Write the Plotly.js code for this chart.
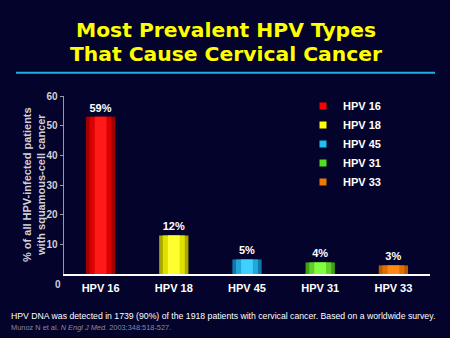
<!DOCTYPE html>
<html><head><meta charset="utf-8">
<script src="https://cdn.plot.ly/plotly-3.0.1.min.js"></script>
<style>html,body{margin:0;padding:0;background:#03032b;}#chart{width:450px;height:338px;}</style>
</head><body><div id="chart"></div>
<script>
const categories = ['HPV 16', 'HPV 18', 'HPV 45', 'HPV 31', 'HPV 33'];
const barHeights = [53, 13, 4.9, 3.9, 2.9];
const barLabels = ['59%', '12%', '5%', '4%', '3%'];
const yTickVals = [10, 20, 30, 40, 50, 60];
const edgeColors = ['#a00000', '#a8a800', '#1078a8', '#40a018', '#b85800'];
const midColors = ['#d80000', '#e0e000', '#20a8d8', '#60d028', '#e07000'];
const centerColors = ['#ff1a1a', '#ffff30', '#40d0ff', '#80ff40', '#ff8810'];
const legendColors = ['#ff0000', '#ffff00', '#20c0f0', '#50e020', '#f07800'];

const traces = [];
categories.forEach((c, i) => {
  const layers = [[0.40, edgeColors[i]], [0.30, midColors[i]], [0.16, centerColors[i]]];
  layers.forEach(([w, col], k) => {
    traces.push({
      type: 'bar', x: [c], y: [barHeights[i]], width: w,
      marker: {color: col, line: {width: 0}},
      text: k === 0 ? [barLabels[i]] : undefined,
      textposition: k === 0 ? 'outside' : 'none',
      textfont: {color: '#ffffff', size: 11, family: 'Liberation Sans', weight: 'bold'},
      cliponaxis: false, showlegend: false, hoverinfo: 'skip'
    });
  });
});
categories.forEach((c, i) => {
  traces.push({
    type: 'scatter', mode: 'markers', x: [null], y: [null], name: c,
    marker: {symbol: 'square', size: 7, color: legendColors[i], line: {width: 0}},
    showlegend: true
  });
});

const px = v => (v - 64) / 366;
const py = v => (274 - v) / 178;

const layout = {
  width: 450, height: 338,
  margin: {l: 64, r: 20, t: 96, b: 64},
  paper_bgcolor: '#03032b', plot_bgcolor: 'rgba(0,0,0,0)',
  barmode: 'overlay',
  showlegend: true,
  legend: {x: px(303), y: py(144), xanchor: 'left', yanchor: 'middle', bgcolor: 'rgba(0,0,0,0)',
    font: {color: '#ffffff', size: 11, family: 'Liberation Sans', weight: 'bold'},
    tracegroupgap: 0},
  xaxis: {type: 'category', range: [-0.5, 4.5], showgrid: false, zeroline: false,
    showline: true, linecolor: '#ffffff', linewidth: 1.5, ticks: '', ticklabelstandoff: 3,
    tickfont: {color: '#ffffff', size: 11, family: 'Liberation Sans', weight: 'bold'}},
  yaxis: {range: [0, 60], tickvals: yTickVals, showgrid: false, zeroline: false,
    showline: true, linecolor: '#9a9aa6', linewidth: 1.5, ticks: 'outside', ticklen: 3,
    tickcolor: '#9a9aa6', tickwidth: 1,
    tickfont: {color: '#d0d0d8', size: 10, family: 'Liberation Sans', weight: 'bold'}},
  font: {family: 'Liberation Sans'},
  annotations: [
    {text: 'Most Prevalent HPV Types', xref: 'paper', yref: 'paper', x: px(226), y: py(30), yanchor: 'middle', xanchor: 'center', showarrow: false,
      font: {color: '#ffff00', size: 20.3, family: 'DejaVu Sans', weight: 'bold'}},
    {text: 'That Cause Cervical Cancer', xref: 'paper', yref: 'paper', x: px(226), y: py(54), yanchor: 'middle', xanchor: 'center', showarrow: false,
      font: {color: '#ffff00', size: 20.3, family: 'DejaVu Sans', weight: 'bold'}},
    {text: '% of all HPV-infected patients<br>with squamous-cell cancer', xref: 'paper', yref: 'paper',
      x: px(34), y: py(185), xanchor: 'center', yanchor: 'middle', textangle: -90, showarrow: false,
      font: {color: '#d0d0d8', size: 11, family: 'Liberation Sans', weight: 'bold'}},
    {text: '0', xref: 'paper', yref: 'y', x: px(58), y: 0, yshift: -10, xanchor: 'center', yanchor: 'middle', showarrow: false,
      font: {color: '#d0d0d8', size: 10, family: 'Liberation Sans', weight: 'bold'}},
    {text: 'HPV DNA was detected in 1739 (90%) of the 1918 patients with cervical cancer. Based on a worldwide survey.',
      xref: 'paper', yref: 'paper', x: px(9), y: py(316), xanchor: 'left', yanchor: 'middle', showarrow: false,
      font: {color: '#ffffff', size: 8.7, family: 'Liberation Sans'}},
    {text: 'Munoz N et al. <i>N Engl J Med.</i> 2003;348:518-527.',
      xref: 'paper', yref: 'paper', x: px(9), y: py(327.5), xanchor: 'left', yanchor: 'middle', showarrow: false,
      font: {color: '#8a8aa0', size: 7.4, family: 'Liberation Sans'}}
  ],
  shapes: [
    {type: 'line', xref: 'paper', yref: 'paper', x0: px(16), x1: px(435), y0: py(72.7), y1: py(72.7),
      line: {color: '#20b0e0', width: 2}}
  ]
};
Plotly.newPlot('chart', traces, layout, {displayModeBar: false, staticPlot: true});
</script></body></html>
